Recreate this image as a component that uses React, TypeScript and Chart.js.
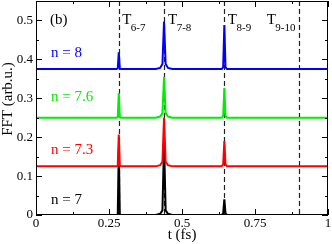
import React, { useEffect, useRef } from "react";
import { Chart, registerables } from "chart.js";

Chart.register(...registerables);

// time axis (fs)
const tValues = [0, 0.276, 0.28, 0.2835, 0.287, 0.291, 0.41, 0.425, 0.433, 0.4385, 0.444, 0.452, 0.467, 0.636, 0.641, 0.645, 0.649, 0.654, 1];

const seriesN8 = [0.375, 0.375, 0.377, 0.418, 0.377, 0.375, 0.375, 0.378, 0.388, 0.497, 0.388, 0.378, 0.375, 0.375, 0.38, 0.488, 0.38, 0.375, 0.375];
const seriesN76 = [0.25, 0.25, 0.252, 0.313, 0.252, 0.25, 0.25, 0.253, 0.262, 0.355, 0.262, 0.253, 0.25, 0.25, 0.255, 0.326, 0.255, 0.25, 0.25];
const seriesN73 = [0.125, 0.125, 0.127, 0.207, 0.127, 0.125, 0.125, 0.128, 0.137, 0.25, 0.137, 0.128, 0.125, 0.125, 0.13, 0.19, 0.13, 0.125, 0.125];
const seriesN7 = [0, 0, 0.002, 0.17, 0.002, 0, 0, 0.003, 0.012, 0.185, 0.012, 0.003, 0, 0, 0.004, 0.04, 0.004, 0, 0];

const seriesLabels = ["n = 8", "n = 7.6", "n = 7.3", "n = 7"];
const seriesColors = ["#0000ff", "#00ee00", "#ff0000", "#000000"];
const labelYValues = [0.417, 0.304, 0.167, 0.038];

// transition markers
const transitionT = [0.284, 0.44, 0.645, 0.902];
const transitionSub = ["6-7", "7-8", "8-9", "9-10"];
const transitionLabelT = [0.295, 0.452, 0.657, 0.79];

const xMajor = [0, 0.25, 0.5, 0.75, 1];
const xMajorLabels = ["0", "0.25", "0.5", "0.75", "1"];
const xMinor = [0.125, 0.375, 0.625, 0.875];
const yMajor = [0, 0.1, 0.2, 0.3, 0.4, 0.5];
const yMajorLabels = ["0", "0.1", "0.2", "0.3", "0.4", "0.5"];
const yMinor = [0.05, 0.15, 0.25, 0.35, 0.45];

const SERIF = "'Liberation Serif', 'DejaVu Serif', serif";

export default function App() {
  const ref = useRef<HTMLCanvasElement | null>(null);

  useEffect(() => {
    document.body.style.margin = "0";
    const canvas = ref.current;
    if (!canvas) return;
    const seriesData = [seriesN8, seriesN76, seriesN73, seriesN7];

    const decor = {
      id: "decor",
      beforeDatasetsDraw(chart: any) {
        const { ctx, chartArea } = chart;
        const xs = chart.scales.x;
        ctx.save();
        ctx.strokeStyle = "#222";
        ctx.lineWidth = 1.2;
        ctx.setLineDash([5, 3]);
        transitionT.forEach((t) => {
          const px = Math.round(xs.getPixelForValue(t)) + 0.5;
          ctx.beginPath();
          ctx.moveTo(px, chartArea.top);
          ctx.lineTo(px, chartArea.bottom);
          ctx.stroke();
        });
        ctx.restore();
      },
      afterDraw(chart: any) {
        const { ctx, chartArea } = chart;
        const xs = chart.scales.x;
        const ys = chart.scales.y;
        const { left, right, top, bottom } = chartArea;
        ctx.save();
        ctx.strokeStyle = "#000";
        ctx.lineWidth = 1;
        ctx.strokeRect(left + 0.5, top + 0.5, right - left - 1, bottom - top - 1);
        ctx.beginPath();
        const tick = (major: boolean) => (major ? 6 : 3);
        xMajor.concat(xMinor).forEach((v, i) => {
          const L = tick(i < xMajor.length);
          const px = Math.round(xs.getPixelForValue(v)) + 0.5;
          ctx.moveTo(px, bottom);
          ctx.lineTo(px, bottom - L);
          ctx.moveTo(px, top);
          ctx.lineTo(px, top + L);
        });
        yMajor.concat(yMinor).forEach((v, i) => {
          const L = tick(i < yMajor.length);
          const py = Math.round(ys.getPixelForValue(v)) + 0.5;
          ctx.moveTo(left, py);
          ctx.lineTo(left + L, py);
          ctx.moveTo(right, py);
          ctx.lineTo(right - L, py);
        });
        ctx.stroke();

        ctx.fillStyle = "#000";
        ctx.font = `13px ${SERIF}`;
        ctx.textAlign = "right";
        ctx.textBaseline = "middle";
        yMajor.forEach((v, i) => {
          ctx.fillText(yMajorLabels[i], left - 3, ys.getPixelForValue(v));
        });
        ctx.textAlign = "center";
        ctx.textBaseline = "top";
        xMajor.forEach((v, i) => {
          ctx.fillText(xMajorLabels[i], xs.getPixelForValue(v), bottom + 2);
        });

        ctx.font = `15px ${SERIF}`;
        ctx.textBaseline = "middle";
        ctx.fillText("t (fs)", (left + right) / 2, 235);
        ctx.save();
        ctx.translate(8, 99);
        ctx.rotate(-Math.PI / 2);
        ctx.fillText("FFT (arb.u.)", 0, 0);
        ctx.restore();

        ctx.textAlign = "left";
        ctx.fillText("(b)", left + 14, 20);

        seriesLabels.forEach((s, i) => {
          ctx.fillStyle = seriesColors[i];
          ctx.fillText(s, left + 15, ys.getPixelForValue(labelYValues[i]));
        });

        ctx.fillStyle = "#000";
        transitionLabelT.forEach((t, i) => {
          const px = xs.getPixelForValue(t);
          ctx.textBaseline = "alphabetic";
          ctx.font = `15px ${SERIF}`;
          ctx.fillText("T", px, 24);
          const w = ctx.measureText("T").width;
          ctx.font = `11px ${SERIF}`;
          ctx.fillText(transitionSub[i], px + w - 0.5, 31);
        });
        ctx.restore();
      },
    };

    const chart = new Chart(canvas, {
      type: "line",
      data: {
        datasets: seriesData.map((vals, i) => ({
          label: seriesLabels[i],
          data: vals.map((v, j) => ({ x: tValues[j], y: v })),
          borderColor: seriesColors[i],
          borderWidth: 2,
          pointRadius: 0,
          tension: 0,
          fill: false,
        })),
      },
      options: {
        animation: false,
        responsive: false,
        devicePixelRatio: 1,
        layout: { padding: { left: 36, right: 4, top: 1, bottom: 29 } },
        plugins: { legend: { display: false }, tooltip: { enabled: false } },
        scales: {
          x: { type: "linear", min: 0, max: 1, display: false },
          y: { type: "linear", min: 0, max: 0.55, display: false },
        },
      },
      plugins: [decor],
    });
    return () => chart.destroy();
  }, []);

  return <canvas ref={ref} width={332} height={244} style={{ display: "block" }} />;
}
